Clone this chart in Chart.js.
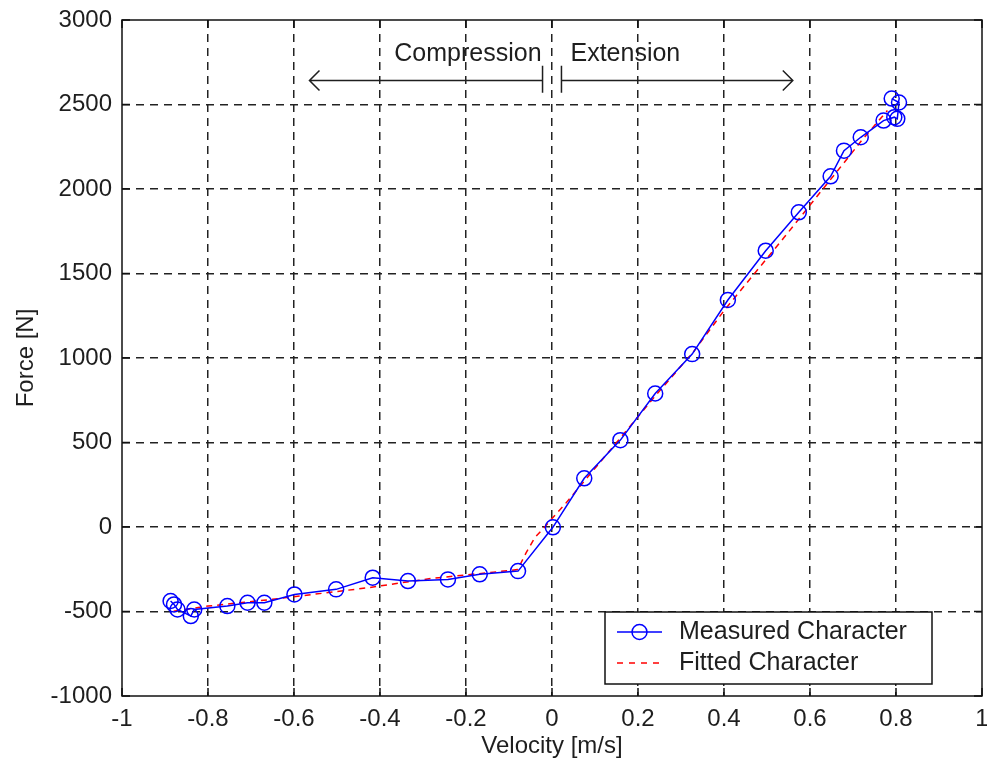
<!DOCTYPE html>
<html>
<head>
<meta charset="utf-8">
<script src="https://cdn.jsdelivr.net/npm/chart.js@4/dist/chart.umd.min.js"></script>
<style>
html,body{margin:0;padding:0;background:#fff;}
#wrap{width:987px;height:767px;position:relative;}
</style>
</head>
<body>
<div id="wrap"><canvas id="c" width="987" height="767"></canvas></div>
<script>
// Measured character (velocity m/s, force N)
const measuredVelocity = [-0.887,-0.879,-0.871,-0.840,-0.832,-0.755,-0.708,-0.669,-0.599,-0.502,-0.417,-0.335,-0.242,-0.168,-0.079,0.002,0.075,0.159,0.240,0.326,0.409,0.497,0.574,0.648,0.679,0.718,0.771,0.796,0.803,0.807,0.790];
const measuredForce    = [-438,-458,-488,-527,-488,-468,-448,-448,-399,-369,-300,-320,-310,-280,-261,-2,288,514,790,1023,1343,1635,1862,2075,2227,2306,2405,2425,2415,2512,2535];
// Fitted character
const fittedVelocity = [-0.88,-0.80,-0.65,-0.43,-0.28,-0.15,-0.08,-0.06,-0.04,-0.015,0.0,0.03,0.16,0.24,0.33,0.40,0.54,0.63,0.69,0.72,0.78];
const fittedForce    = [-498,-468,-428,-360,-304,-271,-252,-152,-63,6,50,134,530,775,1040,1280,1714,2000,2190,2287,2464];
// Axis ticks
const xTicks = [-1,-0.8,-0.6,-0.4,-0.2,0,0.2,0.4,0.6,0.8,1];
const yTicks = [-1000,-500,0,500,1000,1500,2000,2500,3000];
const seriesNames = ["Measured Character","Fitted Character"];
const axisTitles = {x:"Velocity [m/s]", y:"Force [N]"};
const annotationLabels = {left:"Compression", right:"Extension"};

const FONT = "'Liberation Sans', Arial, sans-serif";
const TXT = '#1e1e1e';

const measured = measuredVelocity.map((v,i)=>({x:v,y:measuredForce[i]}));
const fitted = fittedVelocity.map((v,i)=>({x:v,y:fittedForce[i]}));

const gridColor = (ctx, min, max) => {
  const v = ctx.tick && ctx.tick.value;
  if (v === min || v === max) return 'rgba(0,0,0,0)';
  return '#222';
};

const overlay = {
  id:'overlay',
  afterDatasetsDraw(chart){
    const {ctx, chartArea:a, scales:{x,y}} = chart;
    ctx.save();
    // inward tick marks
    ctx.strokeStyle = '#111'; ctx.lineWidth = 1.5; ctx.setLineDash([]);
    xTicks.forEach(t=>{
      const px = x.getPixelForValue(t);
      ctx.beginPath(); ctx.moveTo(px,a.bottom); ctx.lineTo(px,a.bottom-8);
      ctx.moveTo(px,a.top); ctx.lineTo(px,a.top+8); ctx.stroke();
    });
    yTicks.forEach(t=>{
      const py = y.getPixelForValue(t);
      ctx.beginPath(); ctx.moveTo(a.left,py); ctx.lineTo(a.left+8,py);
      ctx.moveTo(a.right,py); ctx.lineTo(a.right-8,py); ctx.stroke();
    });
    // Annotation arrows (data coordinates)
    const ay = y.getPixelForValue(2642);
    const bt = y.getPixelForValue(2730), bb = y.getPixelForValue(2570);
    const lt = x.getPixelForValue(-0.564), lb = x.getPixelForValue(-0.022);
    const rb = x.getPixelForValue(0.022), rt = x.getPixelForValue(0.56);
    ctx.strokeStyle = '#1e1e1e'; ctx.lineWidth = 1.5;
    ctx.beginPath();
    ctx.moveTo(lt,ay); ctx.lineTo(lb,ay);
    ctx.moveTo(lb,bt); ctx.lineTo(lb,bb);
    ctx.moveTo(lt+10,ay-10); ctx.lineTo(lt,ay); ctx.lineTo(lt+10,ay+10);
    ctx.moveTo(rb,ay); ctx.lineTo(rt,ay);
    ctx.moveTo(rb,bt); ctx.lineTo(rb,bb);
    ctx.moveTo(rt-10,ay-10); ctx.lineTo(rt,ay); ctx.lineTo(rt-10,ay+10);
    ctx.stroke();
    ctx.fillStyle = TXT; ctx.font = '25px ' + FONT; ctx.textBaseline = 'middle';
    ctx.textAlign = 'right'; ctx.fillText(annotationLabels.left, lb-1, ay-26);
    ctx.textAlign = 'left'; ctx.fillText(annotationLabels.right, rb+9, ay-26);
    // Legend box
    const lx = 605, ly = 612, lw = 327, lh = 72;
    ctx.fillStyle = '#fff'; ctx.fillRect(lx,ly,lw,lh);
    ctx.strokeStyle = '#111'; ctx.lineWidth = 1.5; ctx.strokeRect(lx,ly,lw,lh);
    const r1 = ly+20, r2 = ly+51;
    ctx.strokeStyle = '#0000ff'; ctx.lineWidth = 1.5;
    ctx.beginPath(); ctx.moveTo(617,r1); ctx.lineTo(662,r1); ctx.stroke();
    ctx.beginPath(); ctx.arc(639.5,r1,7.5,0,Math.PI*2); ctx.stroke();
    ctx.strokeStyle = '#ff0000'; ctx.setLineDash([6,6]);
    ctx.beginPath(); ctx.moveTo(617,r2); ctx.lineTo(662,r2); ctx.stroke();
    ctx.setLineDash([]);
    ctx.fillStyle = TXT; ctx.font = '25px ' + FONT; ctx.textAlign='left'; ctx.textBaseline='middle';
    ctx.fillText(seriesNames[0], 679, r1);
    ctx.fillText(seriesNames[1], 679, r2);
    ctx.restore();
  },
  afterDraw(chart){
    const {ctx, chartArea:a} = chart;
    ctx.save();
    ctx.strokeStyle = '#111'; ctx.lineWidth = 1.5; ctx.setLineDash([]);
    ctx.strokeRect(a.left, a.top, a.right-a.left, a.bottom-a.top);
    ctx.restore();
  }
};

new Chart(document.getElementById('c'), {
  type:'scatter',
  data:{datasets:[
    {label:seriesNames[0], data:measured, showLine:true, borderColor:'#0000ff', borderWidth:1.5,
     pointStyle:'circle', pointRadius:7.5, pointBorderWidth:1.5, pointBackgroundColor:'rgba(0,0,0,0)', pointBorderColor:'#0000ff', order:1},
    {label:seriesNames[1], data:fitted, showLine:true, borderColor:'#ff0000', borderWidth:1.5, borderDash:[6,5],
     pointRadius:0, order:2}
  ]},
  options:{
    responsive:false, animation:false, devicePixelRatio:1,
    layout:{autoPadding:false, padding:{top:20,right:5,left:0,bottom:0}},
    plugins:{legend:{display:false}, tooltip:{enabled:false}},
    scales:{
      x:{type:'linear', min:-1, max:1,
        afterBuildTicks: s => { s.ticks = xTicks.map(v=>({value:v})); },
        afterFit: s => { s.height = 71; s.paddingLeft = 0; s.paddingRight = 0; },
        ticks:{color:TXT, font:{family:FONT,size:24}, padding:9, maxRotation:0, autoSkip:false,
               callback: v => String(Math.round(v*10)/10)},
        grid:{drawTicks:false, lineWidth:1.5, color: c=>gridColor(c,-1,1)},
        border:{display:false, dash:[8,6]},
        title:{display:true, text:axisTitles.x, color:TXT, font:{family:FONT,size:24}, padding:{top:0,bottom:6}}
      },
      y:{type:'linear', min:-1000, max:3000,
        afterBuildTicks: s => { s.ticks = yTicks.map(v=>({value:v})); },
        afterFit: s => { s.width = 122; s.paddingTop = 0; s.paddingBottom = 0; },
        ticks:{color:TXT, font:{family:FONT,size:24}, padding:10, autoSkip:false,
               callback: v => String(v)},
        grid:{drawTicks:false, lineWidth:1.5, color: c=>gridColor(c,-1000,3000)},
        border:{display:false, dash:[8,6]},
        title:{display:true, text:axisTitles.y, color:TXT, font:{family:FONT,size:24}, padding:{top:12,bottom:10}}
      }
    }
  },
  plugins:[overlay]
});
</script>
</body>
</html>
